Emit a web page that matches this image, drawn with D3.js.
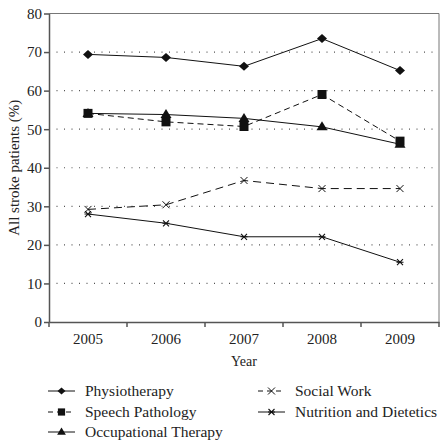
<!DOCTYPE html>
<html><head><meta charset="utf-8">
<script src="https://cdn.jsdelivr.net/npm/d3@7"></script>
<style>body{margin:0;background:#fff}svg{display:block}text{font-family:"Liberation Serif","DejaVu Serif",serif;fill:#222}</style>
</head><body><svg width="443" height="440"></svg>
<script>
const years = ["2005","2006","2007","2008","2009"];
const yTicks = [0,10,20,30,40,50,60,70,80];
const physiotherapy = [69.4, 68.6, 66.3, 73.5, 65.2];
const speechPathology = [54.1, 51.9, 50.7, 59.0, 46.9];
const occupationalTherapy = [54.1, 53.8, 52.8, 50.6, 46.1];
const socialWork = [29.2, 30.4, 36.7, 34.6, 34.6];
const nutrition = [28.0, 25.6, 22.1, 22.1, 15.5];

const series = [
  {name:"Physiotherapy", values:physiotherapy, dash:null, marker:"diamond"},
  {name:"Speech Pathology", values:speechPathology, dash:"6,4", marker:"square"},
  {name:"Occupational Therapy", values:occupationalTherapy, dash:null, marker:"triangle"},
  {name:"Social Work", values:socialWork, dash:"8,5", marker:"times"},
  {name:"Nutrition and Dietetics", values:nutrition, dash:null, marker:"star"}
];
const drawOrder = [0,2,1,3,4];

const svg = d3.select("svg");
const L=49, R=439, T=13.5, B=322;
const x = d3.scaleBand().domain(years).range([L,R]);
const y = d3.scaleLinear().domain([0,80]).range([B,T]);
const ink="#111", axisCol="#555", FS="15px";

svg.append("g").selectAll("line").data(yTicks.filter(d=>d>0&&d<80)).join("line")
  .attr("x1",L).attr("x2",R).attr("y1",d=>y(d)).attr("y2",d=>y(d))
  .attr("stroke","#555").attr("stroke-width",1.2).attr("stroke-dasharray","1,6.5");

svg.append("path").attr("d",`M${L},${T}H${R}V${B}`).attr("fill","none").attr("stroke","#777").attr("stroke-width",1);

const gy = svg.append("g").attr("transform",`translate(${L},0)`)
  .call(d3.axisLeft(y).tickValues(yTicks).tickSize(5).tickSizeOuter(0));
const gx = svg.append("g").attr("transform",`translate(0,${B})`)
  .call(d3.axisBottom(x).tickSize(0).tickSizeOuter(0));
[gy,gx].forEach(g=>{g.select(".domain").attr("stroke",axisCol).attr("stroke-width",1.5);
  g.selectAll(".tick line").attr("stroke",axisCol).attr("stroke-width",1.5);
  g.selectAll("text").style("font-family",'"Liberation Serif",serif').style("font-size",FS).attr("fill","#222");});
gy.selectAll("text").attr("x",-7);
gx.selectAll("text").attr("dy","1.25em");
svg.append("g").selectAll("line").data(years.map(d=>x(d)).concat([R])).join("line")
  .attr("x1",d=>d).attr("x2",d=>d).attr("y1",B).attr("y2",B+5).attr("stroke",axisCol).attr("stroke-width",1.5);

svg.append("text").attr("x",(L+R)/2).attr("y",366).attr("text-anchor","middle").style("font-size","14px").text("Year");
svg.append("text").attr("transform",`translate(19,${(T+B)/2}) rotate(-90)`).attr("text-anchor","middle").style("font-size",FS).text("All stroke patients (%)");

function marker(g, type, k){
  k = k||1;
  if(type==="diamond") g.append("path").attr("d",`M0,${-4.5*k}L${5*k},0L0,${4.5*k}L${-5*k},0Z`).attr("fill",ink);
  else if(type==="square") g.append("path").attr("d",`M${-4.5*k},${-4.5*k}h${9*k}v${9*k}h${-9*k}Z`).attr("fill",ink);
  else if(type==="triangle") g.append("path").attr("d",`M0,${-5.5*k}L${5.5*k},${3.5*k}L${-5.5*k},${3.5*k}Z`).attr("fill",ink);
  else if(type==="times") g.append("path").attr("d",`M-3.5,-3.5L3.5,3.5M-3.5,3.5L3.5,-3.5`).attr("fill","none").attr("stroke",ink).attr("stroke-width",1);
  else if(type==="star"){ g.append("path").attr("d",`M-3,-3L3,3M-3,3L3,-3M-3.5,0H3.5`).attr("fill","none").attr("stroke",ink).attr("stroke-width",1.1);}
}

const cx = d=>x(d)+x.bandwidth()/2;
const line = d3.line().x((v,i)=>cx(years[i])).y(v=>y(v));
series.forEach(s=>{
  svg.append("path").attr("d",line(s.values)).attr("fill","none").attr("stroke",ink).attr("stroke-width",1)
    .attr("stroke-dasharray",s.dash);
});
drawOrder.forEach(j=>{const s=series[j];
  s.values.forEach((v,i)=>{const g=svg.append("g").attr("transform",`translate(${cx(years[i])},${y(v)})`); marker(g,s.marker);});
});

const leg = [
  {s:series[0],x:48,y:391},{s:series[1],x:48,y:412},{s:series[2],x:48,y:432},
  {s:series[3],x:258,y:391},{s:series[4],x:258,y:412}
];
leg.forEach(l=>{
  const g=svg.append("g").attr("transform",`translate(${l.x},${l.y})`);
  g.append("line").attr("x1",0).attr("x2",27).attr("stroke",ink).attr("stroke-width",1).attr("stroke-dasharray",l.s.dash?"5,4":null);
  const m=g.append("g").attr("transform","translate(13.5,0)"); marker(m,l.s.marker,0.8);
  g.append("text").attr("x",37).attr("y",5).style("font-size","15.5px").text(l.s.name);
});
</script></body></html>
